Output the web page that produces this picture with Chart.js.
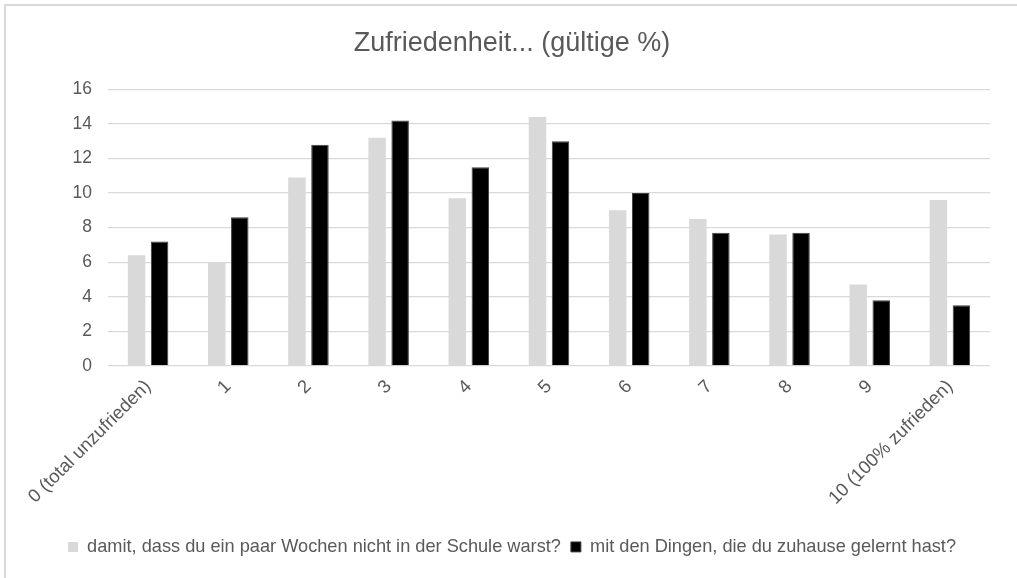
<!DOCTYPE html>
<html>
<head>
<meta charset="utf-8">
<script src="https://cdn.jsdelivr.net/npm/chart.js@4"></script>
<style>
  body { margin: 0; background: #fff; }
  #rahmen {
    position: absolute; left: 4px; top: 4px; width: 1100px; height: 700px;
    border-top: 2px solid #d9d9d9; border-left: 2px solid #d9d9d9;
  }
  #chart { position: absolute; left: 0; top: 0; }
</style>
</head>
<body>
<div id="rahmen"></div>
<canvas id="chart" width="1017" height="578"></canvas>
<script>
// Kategorien und Werte (gültige %)
let kategorien = ['0 (total unzufrieden)', '1', '2', '3', '4', '5', '6', '7', '8', '9', '10 (100% zufrieden)'];
let schule = [6.4, 6.0, 10.9, 13.2, 9.7, 14.4, 9.0, 8.5, 7.6, 4.7, 9.6];
let zuhause = [7.2, 8.6, 12.8, 14.2, 11.5, 13.0, 10.0, 7.7, 7.7, 3.8, 3.5];
let yTicks = [0, 2, 4, 6, 8, 10, 12, 14, 16];

let schrift = '"Liberation Sans", Arial, sans-serif';
let grau = '#595959';

let datos = {
    labels: kategorien,
    datasets: [
        {
            label: 'damit, dass du ein paar Wochen nicht in der Schule warst?',
            data: schule,
            backgroundColor: '#d9d9d9',
            categoryPercentage: 0.574,
            barPercentage: 0.76,
        },
        {
            label: 'mit den Dingen, die du zuhause gelernt hast?',
            data: zuhause,
            backgroundColor: '#000000',
            borderColor: '#404040',
            borderWidth: 1,
            categoryPercentage: 0.574,
            barPercentage: 0.76,
        }
    ]
};

let opciones = {
    responsive: false,
    animation: false,
    // links verschoben, damit Titel und Legende wie im Original mittig sitzen
    layout: { padding: { left: 34, right: 27, top: 0, bottom: 12 } },
    scales: {
        x: {
            grid: { display: false },
            border: { display: false },
            ticks: {
                color: grau,
                font: { family: schrift, size: 18.5 },
                maxRotation: 45,
                minRotation: 45,
                autoSkip: false,
                padding: 2
            },
            afterFit: function (s) { s.height = 162; }
        },
        y: {
            min: 0,
            max: 16,
            afterBuildTicks: function (s) { s.ticks = yTicks.map(v => ({ value: v })); },
            grid: { color: '#d9d9d9', lineWidth: 1.3, drawTicks: false },
            border: { display: false },
            ticks: {
                color: grau,
                font: { family: schrift, size: 17.5 },
                padding: 16
            },
            afterFit: function (s) { s.width = 74; }
        }
    },
    plugins: {
        title: {
            display: true,
            text: 'Zufriedenheit... (gültige %)',
            color: grau,
            font: { family: schrift, size: 27, weight: 'normal' },
            padding: { top: 27, bottom: 30 }
        },
        legend: {
            position: 'bottom',
            labels: {
                color: grau,
                font: { family: schrift, size: 18.2 },
                boxWidth: 10,
                boxHeight: 10,
                padding: 10
            }
        },
        tooltip: { enabled: false }
    }
};

new Chart(document.getElementById('chart'), {
    type: 'bar',
    data: datos,
    options: opciones
});
</script>
</body>
</html>
